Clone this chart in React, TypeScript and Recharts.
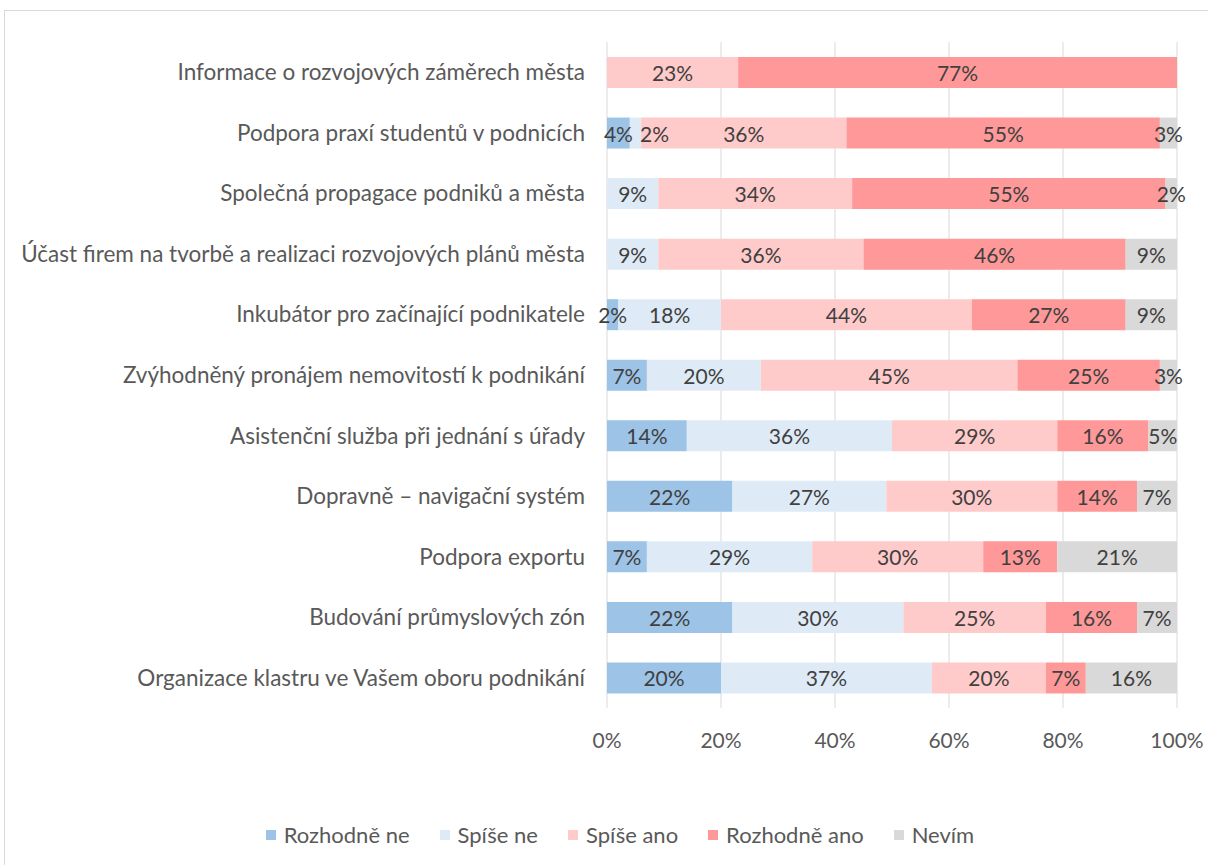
import React from 'react';
import { BarChart, Bar, XAxis, YAxis, CartesianGrid, Legend, LabelList } from 'recharts';

const categories = [
  'Informace o rozvojových záměrech města',
  'Podpora praxí studentů v podnicích',
  'Společná propagace podniků a města ',
  'Účast firem na tvorbě a realizaci rozvojových plánů města',
  'Inkubátor pro začínající podnikatele',
  'Zvýhodněný pronájem nemovitostí k podnikání',
  'Asistenční služba při jednání s úřady',
  'Dopravně – navigační systém',
  'Podpora exportu',
  'Budování průmyslových zón',
  'Organizace klastru ve Vašem oboru podnikání',
];

const rozhodneNe = [0, 4, 0, 0, 2, 7, 14, 22, 7, 22, 20];
const spiseNe = [0, 2, 9, 9, 18, 20, 36, 27, 29, 30, 37];
const spiseAno = [23, 36, 34, 36, 44, 45, 29, 30, 30, 25, 20];
const rozhodneAno = [77, 55, 55, 46, 27, 25, 16, 14, 13, 16, 7];
const nevim = [0, 3, 2, 9, 9, 3, 5, 7, 21, 7, 16];

const xTicks = [0, 20, 40, 60, 80, 100];

const series = [
  { key: 'rozhodneNe', name: 'Rozhodně ne', color: '#9dc3e6' },
  { key: 'spiseNe', name: 'Spíše ne', color: '#deebf7' },
  { key: 'spiseAno', name: 'Spíše ano', color: '#ffcaca' },
  { key: 'rozhodneAno', name: 'Rozhodně ano', color: '#ff9999' },
  { key: 'nevim', name: 'Nevím', color: '#d9d9d9' },
];

const data = categories.map((name, i) => ({
  name,
  rozhodneNe: rozhodneNe[i],
  spiseNe: spiseNe[i],
  spiseAno: spiseAno[i],
  rozhodneAno: rozhodneAno[i],
  nevim: nevim[i],
}));

const FONT = 'Lato, "Noto Sans", sans-serif';
const TEXT = '#595959';
const Y_AXIS_W = 602;

const renderLegend = () => (
  <div style={{ display: 'flex', justifyContent: 'center', gap: 30, fontSize: 22, color: TEXT }}>
    {series.map((s) => (
      <span key={s.key} style={{ display: 'inline-flex', alignItems: 'center' }}>
        <span style={{ display: 'inline-block', width: 10, height: 10, background: s.color, marginRight: 8 }} />
        {s.name}
      </span>
    ))}
  </div>
);

// centred value label; a thin 2nd segment right after a thin 1st one gets pushed right so the two don't collide
const makeLabel = (seriesIdx: number) => (props: any) => {
  const { x, y, width, height, value } = props;
  if (!value) return null;
  const w = Number(width);
  const prevW = Number(x) - Y_AXIS_W;
  const dx = seriesIdx === 1 && w < 20 && prevW > 1 && prevW < 35 ? 19 : 0;
  return (
    <text
      x={Number(x) + w / 2 + dx}
      y={Number(y) + Number(height) / 2}
      textAnchor="middle"
      dominantBaseline="central"
      fill="#404040"
      fontSize={21}
    >
      {`${value}%`}
    </text>
  );
};

const App: React.FC = () => {
  return (
    <div style={{ position: 'absolute', left: 0, top: 0, width: 1208, height: 865, overflow: 'hidden', background: '#fff', fontFamily: FONT }}>
      <div style={{ position: 'absolute', left: 4, top: 10, width: 1230, height: 880, borderLeft: '1px solid #d9d9d9', borderTop: '1px solid #d9d9d9' }}>
        <BarChart
          width={1230}
          height={854}
          data={data}
          layout="vertical"
          margin={{ top: 31, right: 58, left: 0, bottom: 70 }}
          barSize={31}
        >
          <CartesianGrid horizontal={false} stroke="#d9d9d9" />
          <XAxis
            type="number"
            domain={[0, 100]}
            ticks={xTicks}
            tickFormatter={(v) => `${v}%`}
            axisLine={false}
            tickLine={false}
            tickMargin={19}
            height={60}
            tick={{ fill: TEXT, fontSize: 21 }}
            interval={0}
          />
          <YAxis
            type="category"
            dataKey="name"
            width={Y_AXIS_W}
            axisLine={false}
            tickLine={false}
            tickMargin={16}
            tick={{ fill: TEXT, fontSize: 22.5 }}
            interval={0}
          />
          <Legend content={renderLegend} verticalAlign="bottom" wrapperStyle={{ top: 810, left: 0, width: 1230 }} />
          {series.map((s, si) => (
            <Bar key={s.key} dataKey={s.key} name={s.name} stackId="a" fill={s.color} isAnimationActive={false}>
              <LabelList dataKey={s.key} content={makeLabel(si)} />
            </Bar>
          ))}
        </BarChart>
      </div>
    </div>
  );
};

export default App;
